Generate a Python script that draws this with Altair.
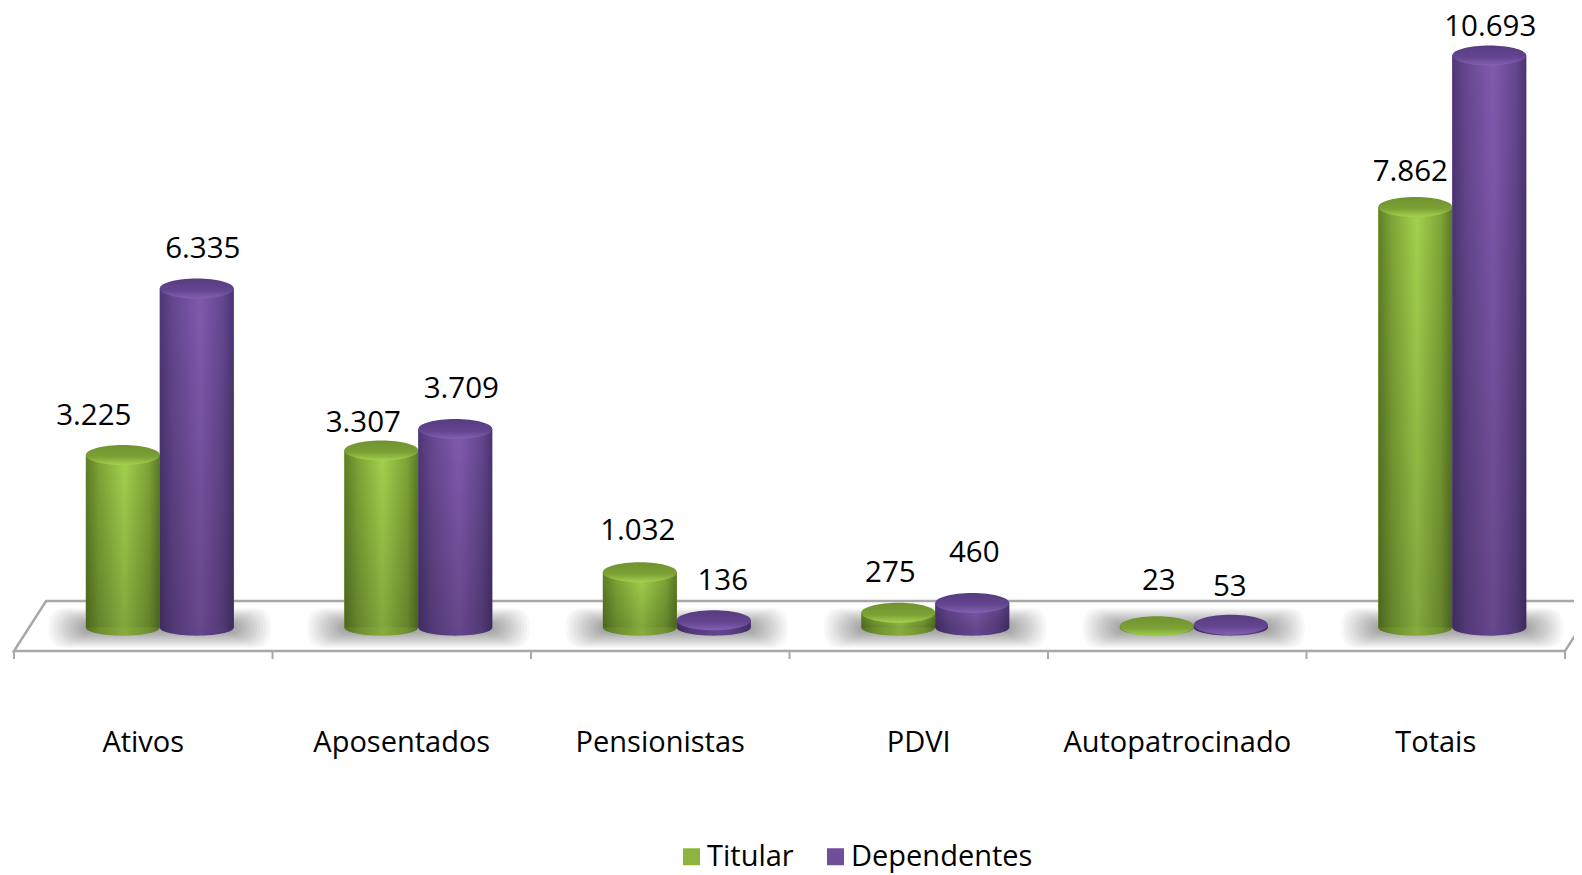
import altair as alt
import pandas as pd

categories = ["Ativos", "Aposentados", "Pensionistas", "PDVI", "Autopatrocinado", "Totais"]
titular = [3225, 3307, 1032, 275, 23, 7862]
dependentes = [6335, 3709, 136, 460, 53, 10693]
# hand placed data labels of the original, as pixel nudges (left/right, upward)
titular_nudge_x = [-29, -18, -2, -8, 2, -5]
titular_nudge_y = [31, 20, 33, 32, 37, 27]
dependentes_nudge_x = [6, 6, 9, 2, -1, 1]
dependentes_nudge_y = [32, 32, 31, 42, 30, 20]
series_names = ["Titular", "Dependentes"]
series_colors = ["#8DB53E", "#6F4E9C"]

PX_X = 258.5          # pixels per category
PX_Y = 0.0535         # pixels per value unit
LEFT, TOP, W, H = 14, 627.5, 1566, 866
xdom = [(8 - LEFT) / PX_X, (8 + W - LEFT) / PX_X]
ydom = [(TOP - (8 + H)) / PX_Y, (TOP - 8) / PX_Y]
def yv(page_y):
    return (TOP - page_y) / PX_Y

CENTER, BAR = 0.564, 0.286

rows = []
for i, cat in enumerate(categories):
    for name, vals, nx, ny, x0 in (
        ("Titular", titular, titular_nudge_x, titular_nudge_y, i + CENTER - BAR),
        ("Dependentes", dependentes, dependentes_nudge_x, dependentes_nudge_y, i + CENTER),
    ):
        v = vals[i]
        rows.append(dict(cat=cat, series=name, v=v, base=0, x0=x0, x1=x0 + BAR, xc=x0 + BAR / 2,
                         lx=x0 + BAR / 2 + nx[i] / PX_X,
                         ly=v + (8 + ny[i]) / PX_Y,
                         label=f"{v:,}".replace(",", ".")))
df = pd.DataFrame(rows)

xs = alt.Scale(domain=xdom, range=[0, W], nice=False, zero=False)
ys = alt.Scale(domain=ydom, range=[H, 0], nice=False, zero=False)
X = lambda f: alt.X(f, type="quantitative", scale=xs, axis=None)
Y = lambda f: alt.Y(f, type="quantitative", scale=ys, axis=None)

def lin(stops, horizontal=True):
    return alt.LinearGradient(
        gradient="linear",
        stops=[alt.GradientStop(offset=o, color=c) for o, c in stops],
        x1=0, y1=0, x2=1 if horizontal else 0, y2=0 if horizontal else 1)

ELLIPSE_TOP = "M-1,0 A1,0.27 0 1 0 1,0 A1,0.27 0 1 0 -1,0 Z"
ELLIPSE_BASE = "M-1,0 A1,0.22 0 1 0 1,0 A1,0.22 0 1 0 -1,0 Z"
ELL_SIZE = 5476

styles = {
    "Titular": dict(
        side=[(0, "#5E7F26"), (0.18, "#7EA436"), (0.52, "#A3D24D"), (0.85, "#7EA436"), (1, "#5A7A24")],
        bottom=[(0, "#557322"), (0.2, "#6F9030"), (0.52, "#88AC3C"), (0.85, "#6F9030"), (1, "#557322")],
        top=[(0, "#6F9230"), (0.6, "#7CA135"), (1, "#A4D24E")]),
    "Dependentes": dict(
        side=[(0, "#4E3676"), (0.18, "#654790"), (0.55, "#8259AF"), (0.85, "#654790"), (1, "#4C3573")],
        bottom=[(0, "#3F2A60"), (0.2, "#523A78"), (0.55, "#654690"), (0.85, "#523A78"), (1, "#3F2A60")],
        top=[(0, "#573C80"), (0.6, "#634590"), (1, "#8560B5")]),
}

# floor outline
floor_x = [6.124, 0.124, 0.0, 6.0, 6.124]
floor_y = [yv(601), yv(601), yv(651), yv(651), yv(601)]
floor_df = pd.DataFrame(dict(x=floor_x, y=floor_y, o=range(5)))
floor = alt.Chart(floor_df).mark_line(color="#A8A8A8", strokeWidth=2.5, clip=True).encode(
    x=X("x"), y=Y("y"), order=alt.Order("o:Q"))

tick_df = pd.DataFrame(dict(x=list(range(7)), y=yv(651), y2=yv(659)))
ticks = alt.Chart(tick_df).mark_rule(color="#A8A8A8", strokeWidth=2).encode(
    x=X("x"), y=Y("y"), y2="y2:Q")

# soft shadows on the floor: nested translucent rounded rectangles
shadow_rows = []
for i in range(6):
    for k in range(14):
        shadow_rows.append(dict(x0=i + CENTER - 0.43 + k * 0.0105,
                                x1=i + CENTER + 0.43 - k * 0.0105,
                                y0=yv(608 + k * 1.2), y1=yv(648 - k * 1.2)))
shadows = alt.Chart(pd.DataFrame(shadow_rows)).mark_rect(
    color="#000000", opacity=0.028, cornerRadius=15).encode(
    x=X("x0"), x2="x1:Q", y=Y("y0"), y2="y1:Q")

# solid bars that carry the legend
legend_bars = alt.Chart(df).mark_rect().encode(
    x=X("x0"), x2="x1:Q", y=Y("v"), y2="base:Q",
    color=alt.Color("series:N",
                    scale=alt.Scale(domain=series_names, range=series_colors),
                    sort=series_names,
                    legend=alt.Legend(
                        title=None, orient="none", direction="horizontal", columns=2,
                        legendX=669, legendY=834, symbolType="square", symbolSize=289,
                        symbolStrokeWidth=0, labelFont="Open Sans", labelFontSize=29,
                        labelColor="#000000", labelOffset=1, columnPadding=27,
                        padding=0, labelLimit=300)))

layers = [floor, ticks, shadows, legend_bars]
for name in series_names:
    s = styles[name]
    d = alt.Chart(df).transform_filter(alt.datum.series == name)
    layers += [
        d.mark_point(shape=ELLIPSE_BASE, size=ELL_SIZE, filled=True, opacity=1, fill=lin(s["bottom"])).encode(
            x=X("xc"), y=Y("base")),
        d.mark_rect(fill=lin(s["side"])).encode(x=X("x0"), x2="x1:Q", y=Y("v"), y2="base:Q"),
        d.mark_rect(fill=lin([(0, "rgba(0,0,0,0)"), (1, "rgba(0,0,0,0.2)")], horizontal=False)).encode(
            x=X("x0"), x2="x1:Q", y=Y("v"), y2="base:Q"),
        d.mark_point(shape=ELLIPSE_TOP, size=ELL_SIZE, filled=True, opacity=1, fill=lin(s["top"], horizontal=False)).encode(
            x=X("xc"), y=Y("v")),
    ]

value_labels = alt.Chart(df).mark_text(font="Open Sans", fontSize=29.5, color="#000000", baseline="middle").encode(
    x=X("lx"), y=Y("ly"), text="label:N")

cat_df = pd.DataFrame(dict(x=[i + 0.5 for i in range(6)], y=yv(743), cat=categories))
cat_labels = alt.Chart(cat_df).mark_text(font="Open Sans", fontSize=29, color="#000000", baseline="middle").encode(
    x=X("x"), y=Y("y"), text="cat:N")

chart = alt.layer(*layers, value_labels, cat_labels).properties(
    width=W, height=H, padding=0,
    autosize=alt.AutoSizeParams(type="none"),
    background="#FFFFFF",
).configure_view(stroke=None)

chart.save("out.html", embed_options={"renderer": "svg", "actions": False})
